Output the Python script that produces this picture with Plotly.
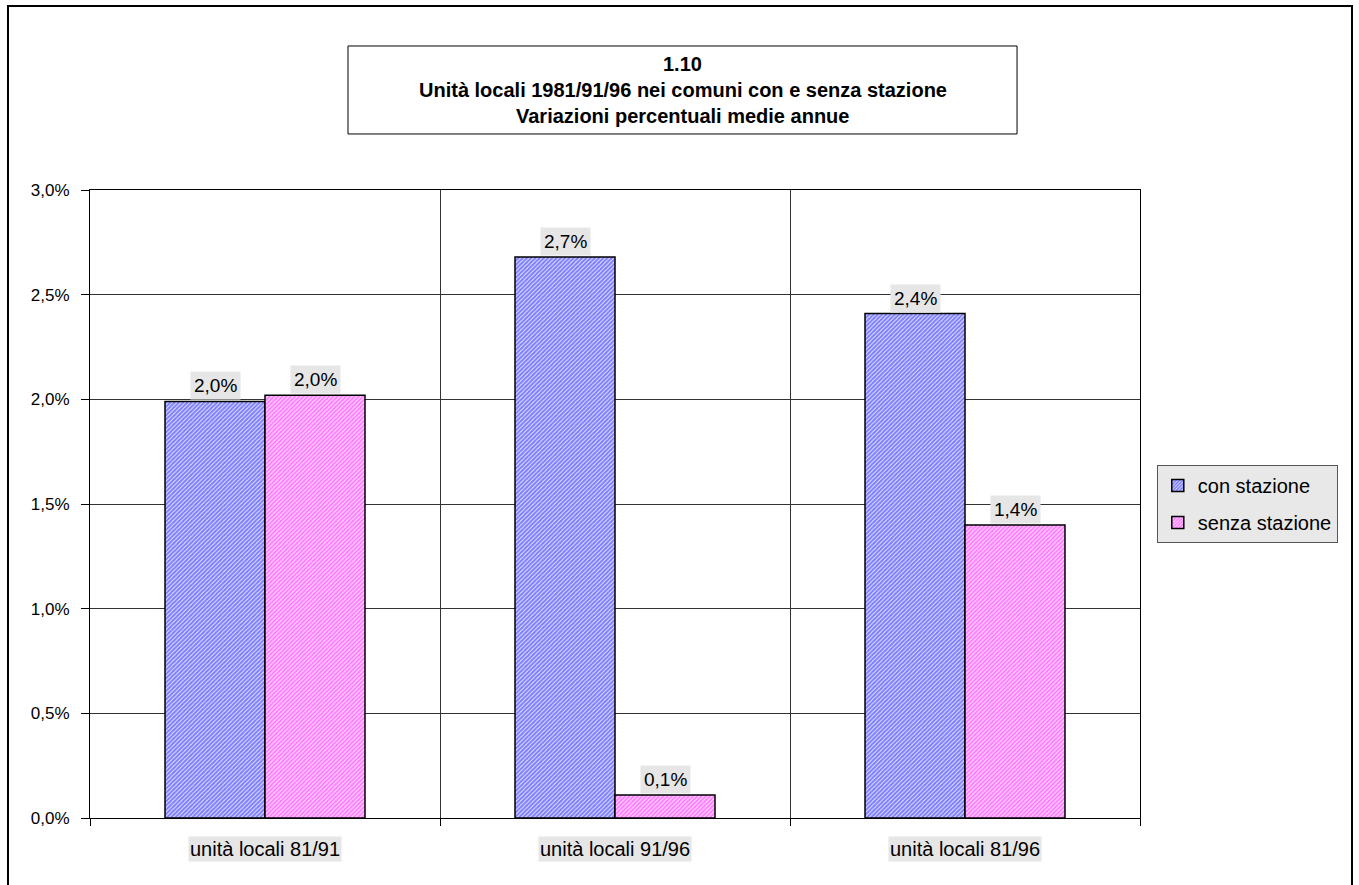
import plotly.graph_objects as go

# Average annual percentage change of local units, municipalities with / without a station
categories = ["unità locali 81/91", "unità locali 91/96", "unità locali 81/96"]
series_names = ["con stazione", "senza stazione"]
con_stazione = [1.99, 2.68, 2.41]
senza_stazione = [2.02, 0.11, 1.40]
y_ticks = [0.0, 0.5, 1.0, 1.5, 2.0, 2.5, 3.0]

title_lines = ["1.10",
               "Unità locali 1981/91/96 nei comuni con e senza stazione",
               "Variazioni percentuali medie annue"]

FONT = "Liberation Sans, Arial, sans-serif"
blue = "#0000ff"
magenta = "#ff00ff"


def fmt(v):
    return f"{v:.1f}%".replace(".", ",")


fig = go.Figure()
for name, vals, col, grp in [(series_names[0], con_stazione, blue, "a"),
                             (series_names[1], senza_stazione, magenta, "b")]:
    fig.add_trace(go.Bar(
        x=categories, y=vals, name=name, legendgroup=grp,
        marker=dict(color="white",
                    line=dict(color="black", width=1.5),
                    pattern=dict(shape="/", fgcolor=col, bgcolor="white",
                                 size=3, solidity=0.75)),
        hoverinfo="skip",
    ))

annotations = []
# value labels in grey boxes sitting on each bar
for vals, shift in [(con_stazione, -50), (senza_stazione, 50)]:
    for c, v in zip(categories, vals):
        annotations.append(dict(
            x=c, y=v, xref="x", yref="y", xshift=shift, yshift=1,
            text=fmt(v), showarrow=False, yanchor="bottom",
            bgcolor="#e6e6e6", borderpad=3,
            font=dict(family=FONT, size=19, color="black")))

# category labels with grey background
for c in categories:
    annotations.append(dict(
        x=c, y=-0.049, xref="x", yref="paper", yanchor="middle",
        text=c, showarrow=False, bgcolor="#e6e6e6", borderpad=1,
        font=dict(family=FONT, size=20, color="black")))

# title lines inside the boxed frame
for line, ypos in zip(title_lines, [1.2013, 1.1599, 1.1185]):
    annotations.append(dict(
        x=0.5643, y=ypos, xref="paper", yref="paper", yanchor="middle",
        text="<b>" + line + "</b>", showarrow=False,
        font=dict(family=FONT, size=20, color="black")))

fig.update_layout(
    width=1359, height=885,
    margin=dict(l=90, r=219, t=190, b=67, autoexpand=False),
    paper_bgcolor="white", plot_bgcolor="white",
    barmode="group", bargap=0.4286, bargroupgap=0,
    showlegend=True,
    legend=dict(x=1.016, y=0.562, xanchor="left", yanchor="top",
                bgcolor="#e8e8e8", bordercolor="#555555", borderwidth=1,
                tracegroupgap=8,
                font=dict(family=FONT, size=20, color="black")),
    annotations=annotations,
    shapes=[
        # outer chart frame
        dict(type="rect", xref="paper", yref="paper",
             x0=-0.0781, x1=1.2019, y0=-0.12, y1=1.293,
             line=dict(color="black", width=2), layer="below"),
        # title frame
        dict(type="rect", xref="paper", yref="paper",
             x0=0.2457, x1=0.8829, y0=1.0892, y1=1.2293,
             line=dict(color="black", width=1), fillcolor="white",
             layer="below"),
    ],
)

fig.update_xaxes(
    type="category", showticklabels=False,
    tickson="boundaries", ticks="outside", ticklen=7, tickcolor="black",
    showgrid=True, gridcolor="#333333", gridwidth=1,
    showline=True, linecolor="black", linewidth=1, mirror=True,
)
fig.update_yaxes(
    range=[0, 3.0], tickmode="array", tickvals=y_ticks,
    ticktext=[fmt(t) for t in y_ticks],
    ticks="outside", ticklen=8, tickcolor="black", ticklabelstandoff=8,
    showgrid=True, gridcolor="#333333", gridwidth=1,
    showline=True, linecolor="black", linewidth=1, mirror=True,
    zeroline=False,
    tickfont=dict(family=FONT, size=17, color="black"),
)

fig.write_html("out.html")
